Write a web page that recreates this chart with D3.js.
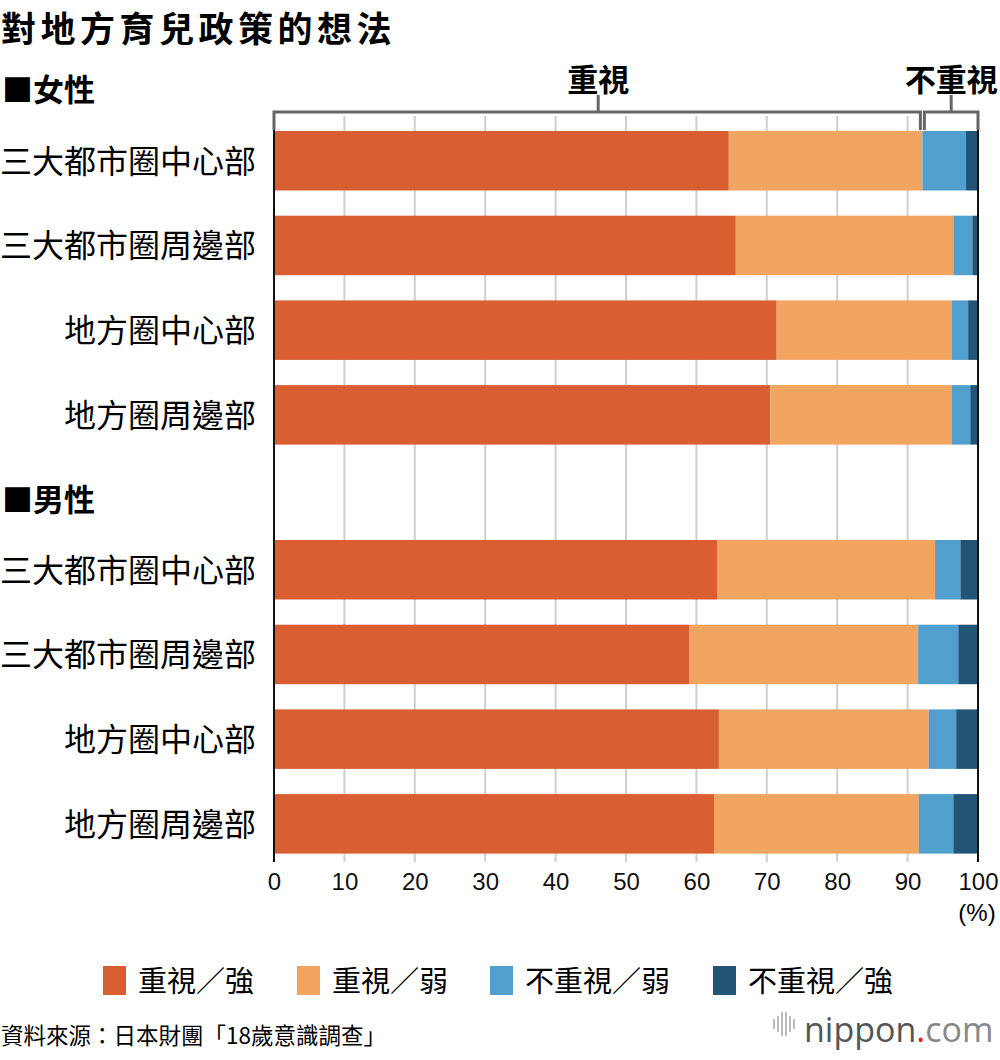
<!DOCTYPE html>
<html>
<head>
<meta charset="utf-8">
<script src="https://cdn.jsdelivr.net/npm/d3@7"></script>
<style>
  body { margin: 0; background: #fff; }
  svg text { font-family: "Noto Sans CJK TC", "Noto Sans", sans-serif; }
</style>
</head>
<body>
<svg width="1000" height="1060"></svg>
<script>
// Data
const categories = ["三大都市圈中心部", "三大都市圈周邊部", "地方圈中心部", "地方圈周邊部"];
const seriesNames = ["重視／強", "重視／弱", "不重視／弱", "不重視／強"];
const colors = ["#d95f32", "#f2a461", "#519fcd", "#225575"];

// female: [strong, weak, notWeak, notStrong]
const female = [
  [64.6, 27.5, 6.2, 1.7],
  [65.6, 30.9, 2.7, 0.8],
  [71.4, 24.9, 2.3, 1.4],
  [70.5, 25.8, 2.6, 1.1]
];
const male = [
  [63.0, 30.9, 3.6, 2.5],
  [59.0, 32.5, 5.7, 2.8],
  [63.2, 29.8, 3.9, 3.1],
  [62.5, 29.1, 4.9, 3.5]
];
const xTicks = [0, 10, 20, 30, 40, 50, 60, 70, 80, 90, 100];

const svg = d3.select("svg");

const x = d3.scaleLinear().domain([0, 100]).range([274, 978]);

// Title
svg.append("text")
    .attr("x", 1).attr("y", 42)
    .attr("font-size", 35).attr("font-weight", "bold")
    .attr("letter-spacing", 4.5)
    .text("對地方育兒政策的想法");

const step = 84.7;
const barH = 59.5;

function drawGroup(label, labelY, data, firstBarTop) {
  svg.append("text")
      .attr("x", 2).attr("y", labelY)
      .attr("font-size", 31).attr("font-weight", "bold")
      .text("■" + label);

  const pad = (step - barH) / step;
  const top = firstBarTop - step * pad / 2;
  const y = d3.scaleBand()
      .domain(categories)
      .range([top, top + 4 * step])
      .paddingInner(pad).paddingOuter(pad / 2);

  const stacked = d3.stack().keys([0, 1, 2, 3])(data);

  const g = svg.append("g");
  stacked.forEach((s, i) => {
    g.selectAll(null)
      .data(s)
      .join("rect")
        .attr("x", d => x(d[0]))
        .attr("width", d => x(d[1]) - x(d[0]))
        .attr("y", (d, j) => y(categories[j]))
        .attr("height", y.bandwidth())
        .attr("fill", colors[i]);
  });

  svg.append("g")
    .selectAll("text")
    .data(categories)
    .join("text")
      .attr("x", 256)
      .attr("y", d => y(d) + y.bandwidth() / 2 + 12)
      .attr("text-anchor", "end")
      .attr("font-size", 32)
      .text(d => d);
}

// Grid lines (behind bars)
const grid = svg.append("g");
grid.selectAll("line")
  .data(xTicks.slice(1, -1))
  .join("line")
    .attr("x1", d => x(d)).attr("x2", d => x(d))
    .attr("y1", 116).attr("y2", 862)
    .attr("stroke", "#cfcfcf").attr("stroke-width", 2);

drawGroup("女性", 101, female, 131);
drawGroup("男性", 511, male, 540);

// Left and right axis lines
svg.append("line")
    .attr("x1", x(0)).attr("x2", x(0)).attr("y1", 116).attr("y2", 862)
    .attr("stroke", "#111").attr("stroke-width", 2);
svg.append("line")
    .attr("x1", x(100)).attr("x2", x(100)).attr("y1", 116).attr("y2", 862)
    .attr("stroke", "#111").attr("stroke-width", 2);

// X axis labels
const xAxis = svg.append("g")
    .attr("transform", "translate(0,864)")
    .call(d3.axisBottom(x).tickValues(xTicks).tickSize(0).tickPadding(9));
xAxis.select(".domain").remove();
xAxis.selectAll("text")
    .attr("font-size", 24).attr("fill", "#111")
    .style("font-family", "'Liberation Sans', Arial, sans-serif");
svg.append("text")
    .attr("x", 977).attr("y", 921)
    .attr("text-anchor", "middle")
    .attr("font-size", 24)
    .style("font-family", "'Liberation Sans', Arial, sans-serif")
    .text("(%)");

// Bracket 重視 / 不重視
const split = female[0][0] + female[0][1];
const bracket = svg.append("g")
    .attr("stroke", "#666").attr("stroke-width", 3).attr("fill", "none");
bracket.append("path")
    .attr("d", `M${x(0)},130V112H${x(split) - 2}V130`);
bracket.append("path")
    .attr("d", `M${x(split) + 2},130V112H${x(100)}V130`);
const mid1 = (x(0) + x(split)) / 2;
const mid2 = (x(split) + x(100)) / 2 + 1;
bracket.append("line").attr("x1", mid1).attr("x2", mid1).attr("y1", 112).attr("y2", 95);
bracket.append("line").attr("x1", mid2).attr("x2", mid2).attr("y1", 112).attr("y2", 95);
svg.append("text")
    .attr("x", mid1).attr("y", 91)
    .attr("text-anchor", "middle")
    .attr("font-size", 31).attr("font-weight", "bold")
    .text("重視");
svg.append("text")
    .attr("x", mid2).attr("y", 91)
    .attr("text-anchor", "middle")
    .attr("font-size", 31).attr("font-weight", "bold")
    .text("不重視");

// Legend
const legendX = [103, 297, 490, 713];
const legend = svg.append("g")
  .selectAll("g")
  .data(seriesNames)
  .join("g")
    .attr("transform", (d, i) => `translate(${legendX[i]},966)`);
legend.append("rect")
    .attr("width", 23).attr("height", 29)
    .attr("fill", (d, i) => colors[i]);
legend.append("text")
    .attr("x", 35).attr("y", 26)
    .attr("font-size", 29)
    .text(d => d);

// Source
svg.append("text")
    .attr("x", 1).attr("y", 1044)
    .attr("font-size", 22.5)
    .text("資料來源：日本財團「18歲意識調查」");

// Logo
const logo = svg.append("g").attr("transform", "translate(770,1032)");
[3, 7, 11, 15, 19, 23].forEach((dx, i) => {
  const h = [10, 16, 24, 24, 16, 10][i];
  logo.append("rect")
    .attr("x", dx).attr("y", -h / 2 - 8).attr("width", 2).attr("height", h)
    .attr("fill", "#bbb");
});
const lt = logo.append("text")
    .attr("x", 34).attr("y", 10)
    .attr("font-size", 34)
    .style("font-family", "'Open Sans', sans-serif");
lt.append("tspan").attr("fill", "#555").text("nippon");
lt.append("tspan").attr("fill", "#e0242f").text(".");
lt.append("tspan").attr("fill", "#888").text("com");
</script>
</body>
</html>
